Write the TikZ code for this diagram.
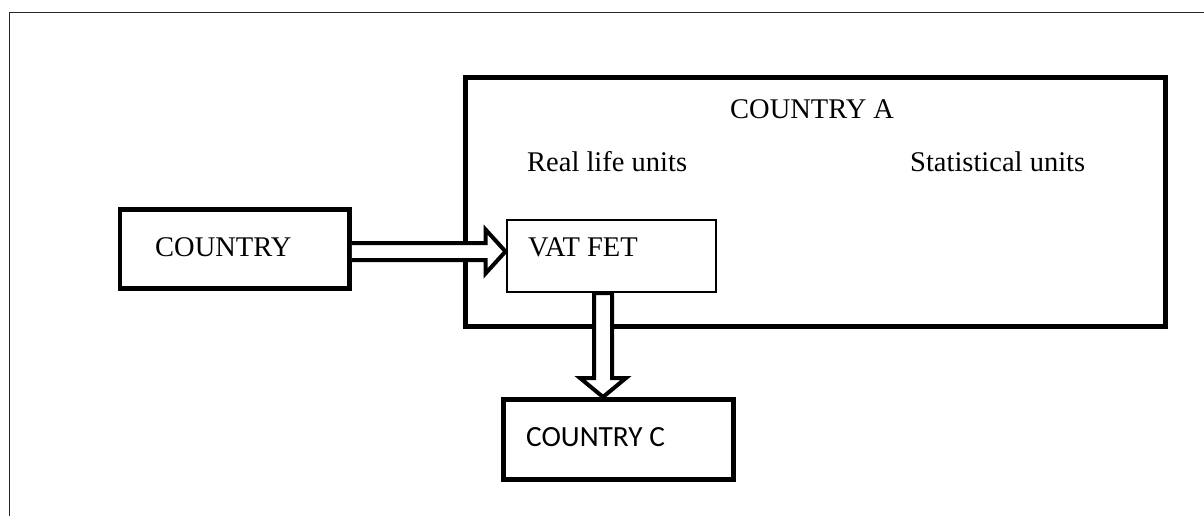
\documentclass[tikz,border=0pt]{standalone}
\usepackage{fontspec}
\setmainfont{Liberation Serif}
\newfontfamily\calfont{Carlito}
\usetikzlibrary{calc}
\begin{document}
\begin{tikzpicture}[x=1pt,y=-1pt,
  box/.style={draw=black,rectangle,inner sep=0pt,fill=none},
  lbl/.style={anchor=base west,inner sep=0pt,font=\rmfamily\fontsize{28.5}{32}\selectfont},
  clbl/.style={anchor=base west,inner sep=0pt,font=\calfont\fontsize{29.3}{33}\selectfont},
  blockarrow/.style={draw=black,fill=white,line width=4pt,line join=miter}]
\useasboundingbox (0,0) rectangle (1204,516);
% outer frame (cropped at right and bottom)
\draw[line width=1.5pt,black!85] (9.5,516) -- (9.5,12.5) -- (1204,12.5);
% boxes
\node[box,line width=5pt,minimum width=700pt,minimum height=248.5pt] (ca) at (815,201.75) {};
\node[box,line width=4.5pt,minimum width=229.5pt,minimum height=79pt] (cty) at (234.75,249) {};
\node[box,line width=2pt,minimum width=209.5pt,minimum height=72pt] (vat) at (611.25,256) {};
\node[box,line width=5pt,minimum width=230pt,minimum height=79.5pt] (cc) at (618.5,439.25) {};
% texts
\node[lbl] (tca) at (730,119) {COUNTRY A};
\node[lbl] (treal) at (527,171) {Real life units};
\node[lbl] (tstat) at (910,171) {Statistical units};
\node[lbl] (tcty) at (155,256) {COUNTRY};
\node[lbl] (tvat) at (528,256.5) {VAT FET};
\node[clbl] (tcc) at (526,446.5) {COUNTRY C};
% block arrow COUNTRY -> VAT FET
\coordinate (r1) at (cty.east |- 0,251.5);
\coordinate (r2) at (vat.west |- 0,251.5);
\draw[blockarrow] ($(r1)+(0,-8.5)$) -- ($(r2)+(-20,-8.5)$) -- ($(r2)+(-20,-22)$)
  -- (r2) -- ($(r2)+(-20,22)$) -- ($(r2)+(-20,8.5)$) -- ($(r1)+(0,8.5)$);
% block arrow VAT FET -> COUNTRY C
\coordinate (d1) at (vat.south -| 603,0);
\coordinate (d2) at (cc.north -| 603,0);
\draw[blockarrow] ($(d1)+(-9,0)$) -- ($(d2)+(-9,-19)$) -- ($(d2)+(-23,-19)$)
  -- (d2) -- ($(d2)+(23,-19)$) -- ($(d2)+(9,-19)$) -- ($(d1)+(9,0)$) -- cycle;
\end{tikzpicture}
\end{document}
